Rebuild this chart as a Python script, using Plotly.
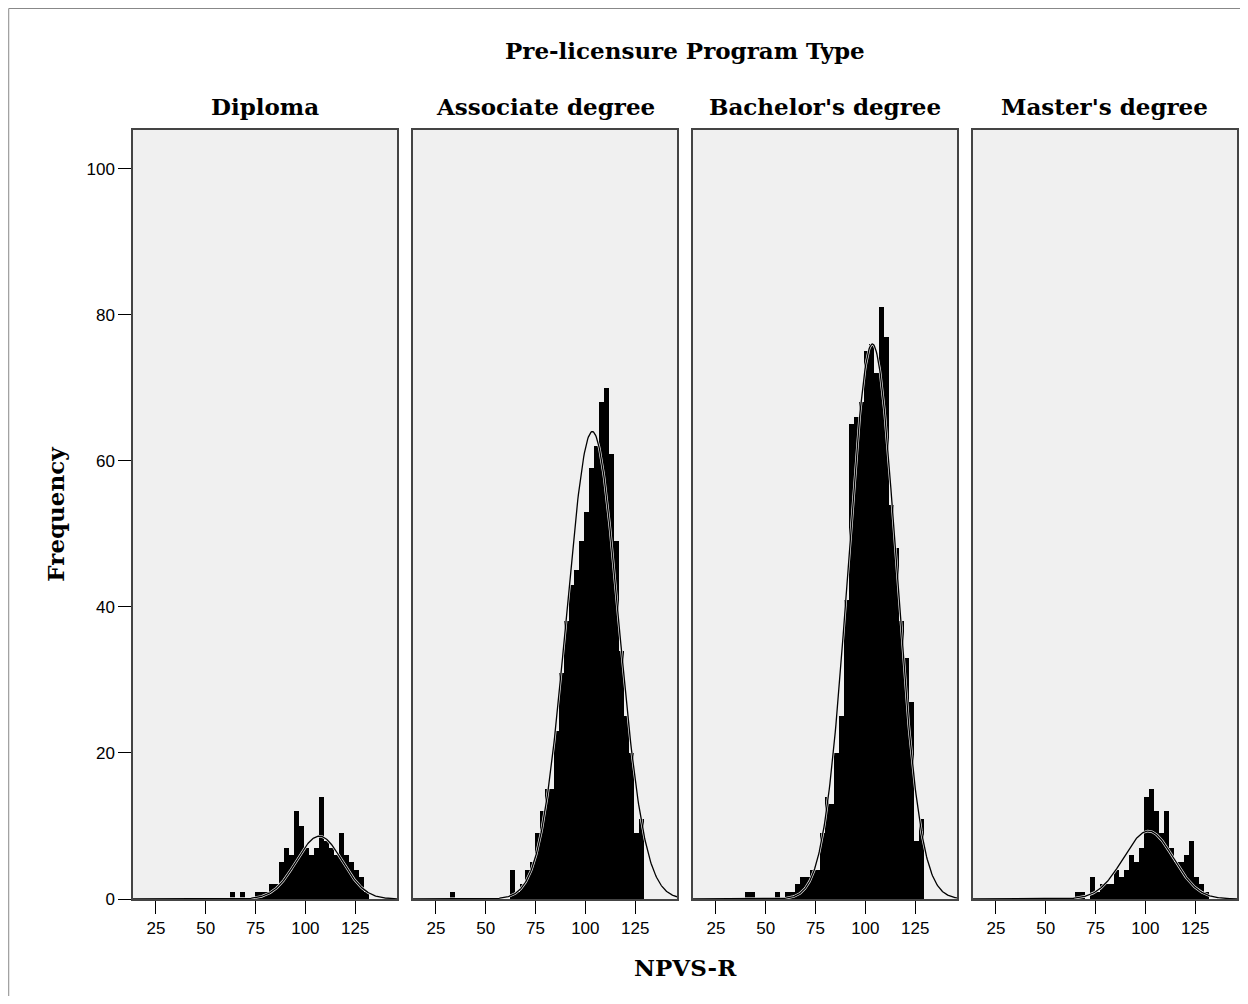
import numpy as np
import plotly.graph_objects as go
from plotly.subplots import make_subplots

# shared histogram bins (left edges, width 2.5)
bin_left = [32 + 2.5 * k for k in range(40)]
bin_width = 2.5

panel_names = ["Diploma", "Associate degree", "Bachelor's degree", "Master's degree"]

# counts per bin (index = bin number)
diploma = {12: 1, 14: 1, 17: 1, 18: 1, 19: 1, 20: 2, 21: 2, 22: 5, 23: 7, 24: 6, 25: 12,
           26: 10, 27: 7, 28: 6, 29: 7, 30: 14, 31: 8, 32: 7, 33: 6, 34: 9, 35: 6, 36: 5,
           37: 4, 38: 3, 39: 1}
associate = {0: 1, 12: 4, 13: 1, 14: 2, 15: 4, 16: 5, 17: 9, 18: 12, 19: 15, 20: 15, 21: 23,
             22: 31, 23: 38, 24: 43, 25: 45, 26: 49, 27: 53, 28: 59, 29: 62, 30: 68, 31: 70,
             32: 61, 33: 49, 34: 34, 35: 25, 36: 20, 37: 9, 38: 11}
bachelor = {3: 1, 4: 1, 9: 1, 11: 1, 12: 1, 13: 2, 14: 3, 15: 3, 16: 4, 17: 4, 18: 9, 19: 14,
            20: 13, 21: 20, 22: 25, 23: 41, 24: 65, 25: 66, 26: 68, 27: 75, 28: 76, 29: 72,
            30: 81, 31: 77, 32: 54, 33: 48, 34: 38, 35: 33, 36: 27, 37: 8, 38: 11}
master = {13: 1, 14: 1, 16: 3, 17: 1, 18: 2, 19: 2, 20: 2, 21: 4, 22: 3, 23: 4, 24: 6, 25: 5,
          26: 7, 27: 14, 28: 15, 29: 12, 30: 9, 31: 12, 32: 7, 33: 5, 34: 5, 35: 6, 36: 8,
          37: 3, 38: 2, 39: 1}
panel_counts = [diploma, associate, bachelor, master]

# fitted normal curve per panel: mean, sd, peak height
curve_mean = [107, 103.5, 103.5, 101.5]
curve_sd = [11.5, 13, 12, 12.5]
curve_peak = [8.6, 64, 76, 9.3]

x_ticks = [25, 50, 75, 100, 125]
y_ticks = [0, 20, 40, 60, 80, 100]

TITLE_FONT = dict(family="DejaVu Serif", size=23, color="black", weight="bold")
TICK_FONT = dict(family="Liberation Sans", size=17, color="black")

# figure fits the page exactly (8px body margin all round)
FIG_W, FIG_H = 1232, 988
# plot area in figure pixels
L, R, T, B = 125, 1231, 122, 891
W, H = R - L, B - T
GAP = 16
PANEL_W = (W - 3 * GAP) / 4


def px(x):
    return (x - L) / W


def py(y):
    return (B - y) / H


fig = make_subplots(rows=1, cols=4, shared_yaxes=True, horizontal_spacing=GAP / W)

xs = np.linspace(13.5, 146, 400)
for i, counts in enumerate(panel_counts):
    centers = [b + bin_width / 2 for b in bin_left]
    ys = [counts.get(k, 0) for k in range(len(bin_left))]
    fig.add_trace(go.Bar(x=centers, y=ys, width=bin_width,
                         marker=dict(color="black", line=dict(width=0)),
                         showlegend=False), row=1, col=i + 1)
    curve = curve_peak[i] * np.exp(-0.5 * ((xs - curve_mean[i]) / curve_sd[i]) ** 2)
    # light halo so the curve reads inside the black bars
    fig.add_trace(go.Scatter(x=xs, y=curve, mode="lines",
                             line=dict(color="#f0f0f0", width=2.6), showlegend=False,
                             hoverinfo="skip"), row=1, col=i + 1)
    fig.add_trace(go.Scatter(x=xs, y=curve, mode="lines",
                             line=dict(color="black", width=1.3), showlegend=False),
                  row=1, col=i + 1)

fig.update_xaxes(range=[13.5, 146], tickvals=x_ticks, ticks="outside", ticklen=13,
                 tickcolor="black", tickwidth=1, tickfont=TICK_FONT,
                 showline=True, mirror=True, linecolor="#444444", linewidth=1.5,
                 showgrid=False, zeroline=False)
fig.update_yaxes(range=[0, 105.3], tickvals=y_ticks, showline=True, mirror=True,
                 linecolor="#444444", linewidth=1.5, showgrid=False, zeroline=False)
fig.update_yaxes(ticks="outside", ticklen=13, tickcolor="black", tickwidth=1,
                 tickfont=TICK_FONT, row=1, col=1)
for c in range(2, 5):
    fig.update_yaxes(ticks="", showticklabels=False, row=1, col=c)

annotations = []
for i, name in enumerate(panel_names):
    xc = (PANEL_W / 2 + i * (PANEL_W + GAP)) / W
    annotations.append(dict(text=name, x=xc, y=py(98), xref="paper", yref="paper",
                            showarrow=False, font=TITLE_FONT, xanchor="center", yanchor="middle"))
annotations.append(dict(text="Pre-licensure Program Type", x=0.5, y=py(42),
                        xref="paper", yref="paper", showarrow=False, font=TITLE_FONT,
                        xanchor="center", yanchor="middle"))
annotations.append(dict(text="Frequency", x=px(47), y=0.5, textangle=-90,
                        xref="paper", yref="paper", showarrow=False, font=TITLE_FONT,
                        xanchor="center", yanchor="middle"))
annotations.append(dict(text="NPVS-R", x=0.5, y=py(960),
                        xref="paper", yref="paper", showarrow=False, font=TITLE_FONT,
                        xanchor="center", yanchor="middle"))

fig.update_layout(
    width=FIG_W, height=FIG_H,
    margin=dict(l=L, r=FIG_W - R, t=T, b=FIG_H - B),
    paper_bgcolor="white", plot_bgcolor="#f0f0f0",
    bargap=0, barmode="overlay",
    annotations=annotations,
    # frame on the top and left of the figure
    shapes=[dict(type="line", xref="paper", yref="paper",
                 x0=px(0.5), x1=px(FIG_W + 20), y0=py(0.5), y1=py(0.5),
                 line=dict(color="#888888", width=1)),
            dict(type="line", xref="paper", yref="paper",
                 x0=px(0.5), x1=px(0.5), y0=py(0.5), y1=py(FIG_H + 20),
                 line=dict(color="#888888", width=1))],
)

fig.write_html("out.html")
